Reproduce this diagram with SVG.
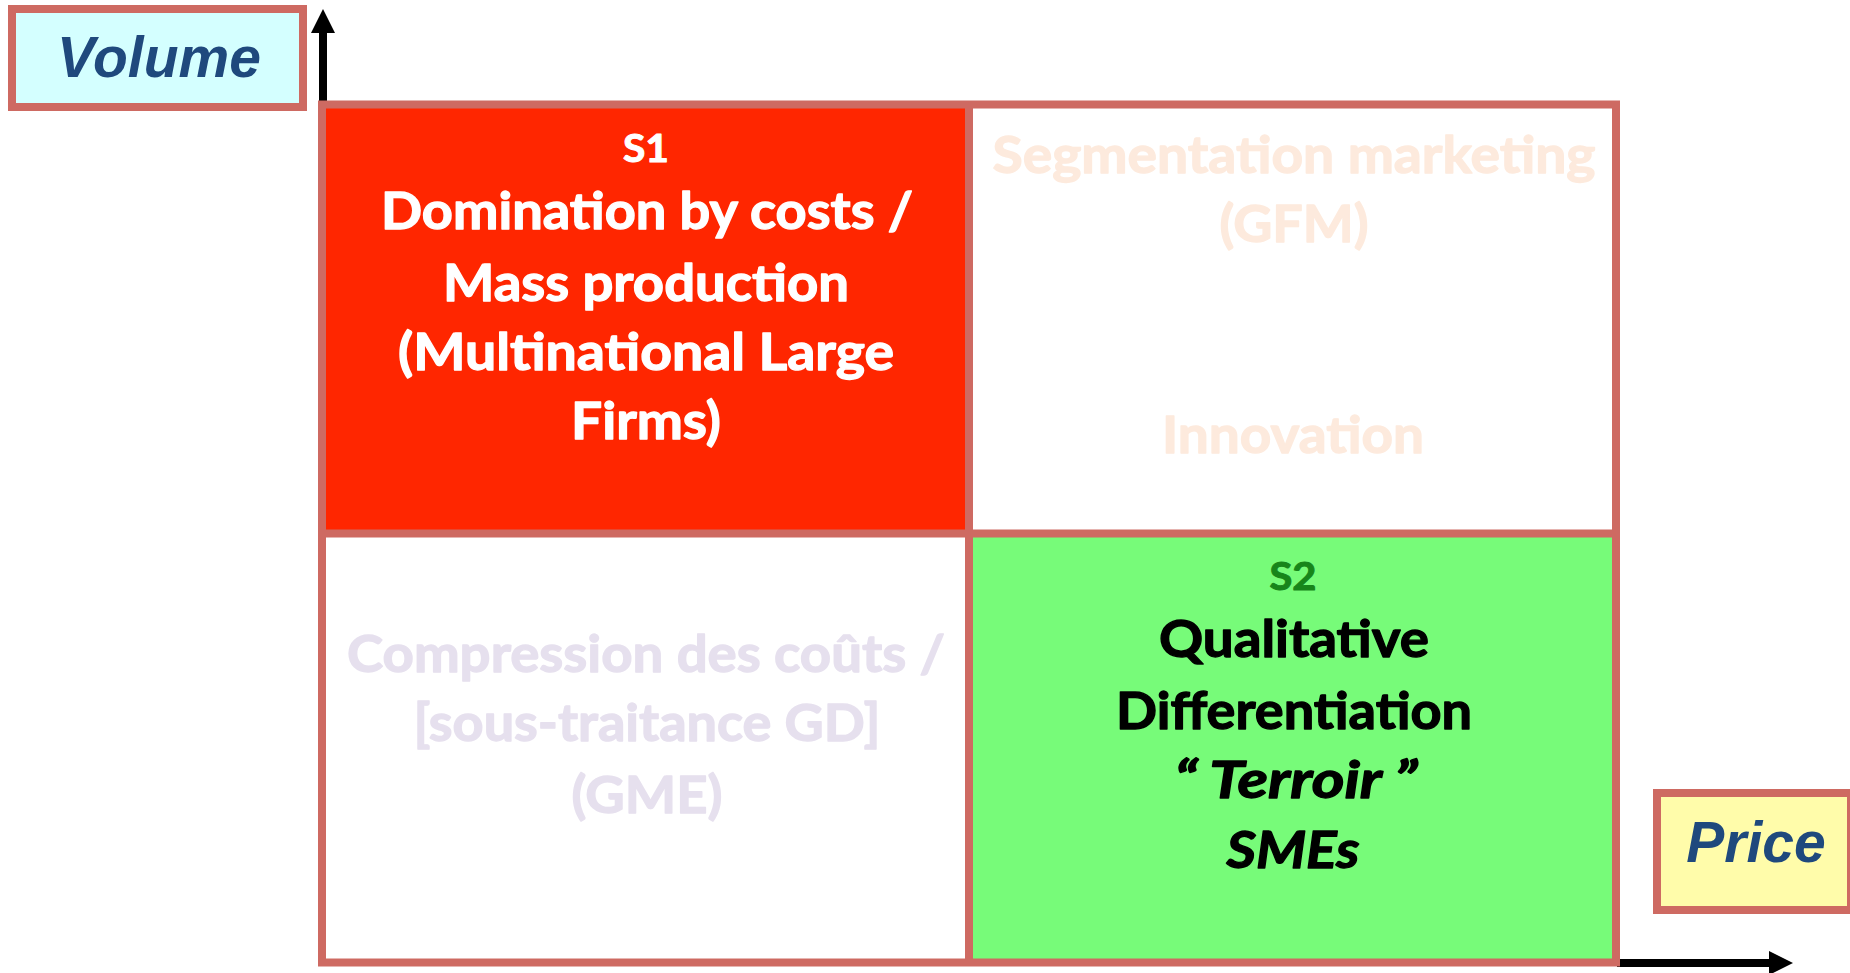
<svg xmlns="http://www.w3.org/2000/svg" width="1850" height="973" viewBox="0 0 1850 973">
  <style>
    .frame { fill: none; stroke: #CE6A62; stroke-width: 8; }
    .axis { stroke: #000000; stroke-width: 8; fill: none; }
    .axislbl { font-family: "Liberation Sans", Arial, sans-serif; font-weight: bold; font-style: italic; font-size: 57px; fill: #1F497D; text-anchor: middle; }
    .q { font-family: Lato, "Open Sans", sans-serif; font-weight: bold; font-size: 52px; text-anchor: middle; stroke-width: 1.3; stroke-linejoin: round; }
    .tag { font-family: Lato, "Open Sans", sans-serif; font-weight: bold; font-size: 38px; text-anchor: middle; stroke-width: 1; stroke-linejoin: round; }
    .it { font-style: italic; }
  </style>
  <defs>
    <marker id="head" viewBox="0 0 24 24" refX="0" refY="12" markerWidth="24" markerHeight="24" markerUnits="userSpaceOnUse" orient="auto">
      <path d="M0,0 L24,12 L0,24 Z" fill="#000000"/>
    </marker>
  </defs>
  <rect width="1850" height="973" fill="#FFFFFF"/>

  <!-- axes -->
  <g id="connectors">
    <line class="axis" x1="323" y1="106" x2="323" y2="33" marker-end="url(#head)"/>
    <line class="axis" x1="1617" y1="963" x2="1769" y2="963" marker-end="url(#head)"/>
  </g>

  <!-- axis labels -->
  <g id="volume">
    <rect x="12" y="9" width="291" height="98" class="frame" style="fill:#D4FFFF"/>
    <text class="axislbl" x="159" y="77">Volume</text>
  </g>
  <g id="price">
    <rect x="1657" y="793" width="194" height="117" class="frame" style="fill:#FFFCAA"/>
    <text class="axislbl" x="1756" y="862">Price</text>
  </g>

  <!-- S1: top-left quadrant -->
  <g id="s1">
    <rect x="322" y="104" width="647" height="430" fill="#FF2600"/>
    <text class="tag" x="646" y="162" fill="#FFFFFF" stroke="#FFFFFF" textLength="46" lengthAdjust="spacingAndGlyphs">S1</text>
    <g fill="#FFFFFF" stroke="#FFFFFF">
      <text class="q" x="647" y="229" textLength="532" lengthAdjust="spacingAndGlyphs">Domination by costs /</text>
      <text class="q" x="646" y="301" textLength="406" lengthAdjust="spacingAndGlyphs">Mass production</text>
      <text class="q" x="646" y="370" textLength="496" lengthAdjust="spacingAndGlyphs">(Multinational Large</text>
      <text class="q" x="646" y="439" textLength="150" lengthAdjust="spacingAndGlyphs">Firms)</text>
    </g>
  </g>

  <!-- top-right quadrant -->
  <g id="segmentation">
    <g fill="#FDEADD" stroke="#FDEADD">
      <text class="q" x="1294" y="173" textLength="603" lengthAdjust="spacingAndGlyphs">Segmentation marketing</text>
      <text class="q" x="1294" y="242" textLength="149" lengthAdjust="spacingAndGlyphs">(GFM)</text>
      <text class="q" x="1293" y="453" textLength="262" lengthAdjust="spacingAndGlyphs">Innovation</text>
    </g>
  </g>

  <!-- bottom-left quadrant -->
  <g id="compression">
    <g fill="#E6E0EE" stroke="#E6E0EE">
      <text class="q" x="646" y="672" textLength="598" lengthAdjust="spacingAndGlyphs">Compression des coûts /</text>
      <text class="q" x="647" y="741" textLength="467" lengthAdjust="spacingAndGlyphs">[sous-traitance GD]</text>
      <text class="q" x="647" y="813" textLength="151" lengthAdjust="spacingAndGlyphs">(GME)</text>
    </g>
  </g>

  <!-- S2: bottom-right quadrant -->
  <g id="s2">
    <rect x="969" y="533" width="647" height="429" fill="#77FB79"/>
    <text class="tag" x="1293" y="590" fill="#17851A" stroke="#17851A" textLength="47" lengthAdjust="spacingAndGlyphs">S2</text>
    <g fill="#000000" stroke="#000000">
      <text class="q" x="1294" y="657" textLength="270" lengthAdjust="spacingAndGlyphs">Qualitative</text>
      <text class="q" x="1294" y="729" textLength="356" lengthAdjust="spacingAndGlyphs">Differentiation</text>
      <text class="q it" x="1296" y="798" textLength="243" lengthAdjust="spacingAndGlyphs">“ Terroir ”</text>
      <text class="q it" x="1293" y="868" textLength="133" lengthAdjust="spacingAndGlyphs">SMEs</text>
    </g>
  </g>

  <!-- quadrant frame -->
  <g id="grid">
    <rect class="frame" x="322" y="104.5" width="1294" height="858"/>
    <line class="frame" x1="969" y1="104" x2="969" y2="963"/>
    <line class="frame" x1="322" y1="533.5" x2="1616" y2="533.5"/>
  </g>
</svg>
